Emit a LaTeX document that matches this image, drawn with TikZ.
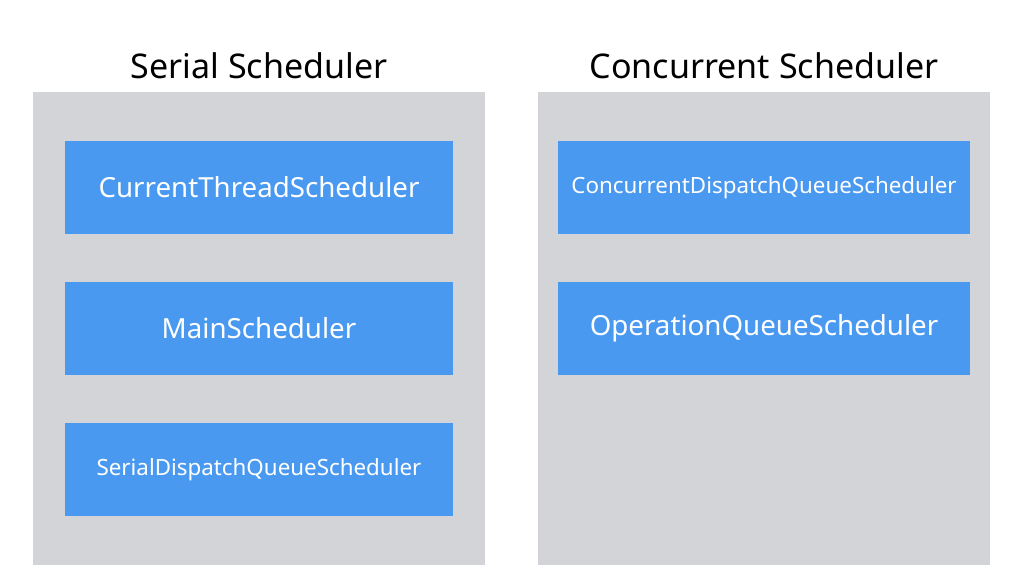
\documentclass[tikz,border=0pt]{standalone}
\usepackage{fontspec}
\setmainfont{Noto Sans}
\usepackage{tikz}
\usepackage{xcolor}
\definecolor{panelgray}{HTML}{D3D4D7}
\definecolor{schedblue}{HTML}{4A99F0}

\begin{document}
\begin{tikzpicture}[x=0.025cm, y=-0.025cm,
    panel/.style={rectangle, fill=panelgray, minimum width=11.3cm, minimum height=11.825cm, inner sep=0pt},
    sched/.style={rectangle, fill=schedblue, text=white, minimum height=2.325cm, inner sep=0pt, font=\fontsize{19.7}{23}\selectfont},
    small/.style={font=\fontsize{15.9}{19}\selectfont},
    title/.style={font=\fontsize{24.2}{28}\selectfont}]
\useasboundingbox (0,0) rectangle (1034,579);

% Panels
\node[panel] (serial) at (259,328.5) {};
\node[panel] (concurrent) at (764,328.5) {};

% Titles
\node[title] (serialtitle) at (259,66) {Serial Scheduler};
\node[title] (concurrenttitle) at (764,66) {Concurrent Scheduler};

% Serial schedulers
\node[sched, minimum width=9.7cm] (current) at (259,187.5) {CurrentThreadScheduler};
\node[sched, minimum width=9.7cm] (main) at (259,328.5) {MainScheduler};
\node[sched, small, minimum width=9.7cm] (serialdq) at (259,469.5) {SerialDispatchQueueScheduler};

% Concurrent schedulers
\node[sched, small, minimum width=10.3cm] (concdq) at (764,187.5) {ConcurrentDispatchQueueScheduler};
\node[sched, minimum width=10.3cm] (opqueue) at (764,328.5) {OperationQueueScheduler};

\end{tikzpicture}
\end{document}
